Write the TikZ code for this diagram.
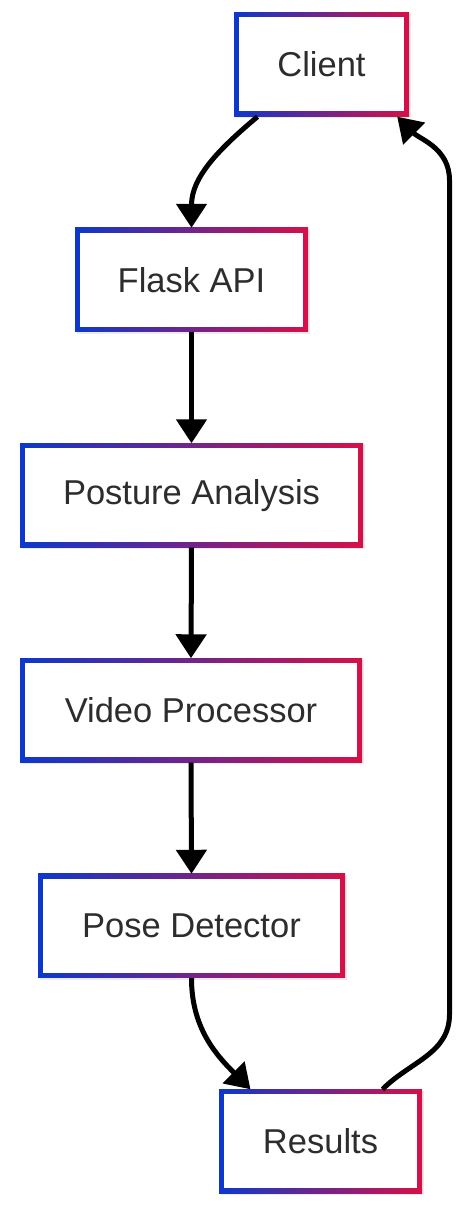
\documentclass[tikz,border=0pt]{standalone}
\usepackage{fontspec}
\setmainfont{Liberation Sans}
\usetikzlibrary{arrows.meta, shadows}

\definecolor{edgeblue}{RGB}{12,56,204}
\definecolor{edgered}{RGB}{214,16,72}
\definecolor{labelgray}{RGB}{45,45,45}

\tikzset{
  stage/.style={minimum height=104pt, inner sep=0pt, text=labelgray,
    font=\fontsize{34.5}{40}\selectfont,
    drop shadow={shadow xshift=2pt, shadow yshift=-2pt, opacity=0.08, fill=black},
    path picture={
      \shade[left color=edgeblue, right color=edgered]
        (path picture bounding box.south west) rectangle (path picture bounding box.north east);
      \fill[white] ([shift={(5pt,5pt)}]path picture bounding box.south west)
        rectangle ([shift={(-5pt,-5pt)}]path picture bounding box.north east);
    }},
  flow/.style={-{Triangle[length=24pt,width=30pt]}, line width=5pt, black}
}

\begin{document}
\begin{tikzpicture}[x=1pt, y=1pt]
    \useasboundingbox (0,0) rectangle (473,1218);

    % Pipeline stages
    \node[stage, minimum width=175pt] (client) at (321.5, 1153.5) {Client};
    \node[stage, minimum width=233pt] (flask) at (191.5, 938) {Flask API};
    \node[stage, minimum width=343pt] (posture) at (191.5, 722.5) {Posture Analysis};
    \node[stage, minimum width=342pt] (video) at (191, 507.5) {Video Processor};
    \node[stage, minimum width=307pt] (pose) at (191.5, 292) {Pose Detector};
    \node[stage, minimum width=203pt] (results) at (320.5, 76.5) {Results};

    % Request goes down
    \draw[flow] ([xshift=-64pt]client.south) to[out=-140, in=90] (flask.north);
    \foreach \a/\b in {flask/posture, posture/video, video/pose} {
        \draw[flow] (\a.south) -- (\b.north);
    }
    \draw[flow] (pose.south) to[out=-90, in=135] ([xshift=-70pt]results.north);

    % Results back to the client
    \draw[flow] ([xshift=62pt]results.north) to[out=45, in=-90] ++(67,75)
        -- ++(0,834) to[out=90, in=-45] ([xshift=-12pt]client.south east);
\end{tikzpicture}
\end{document}
